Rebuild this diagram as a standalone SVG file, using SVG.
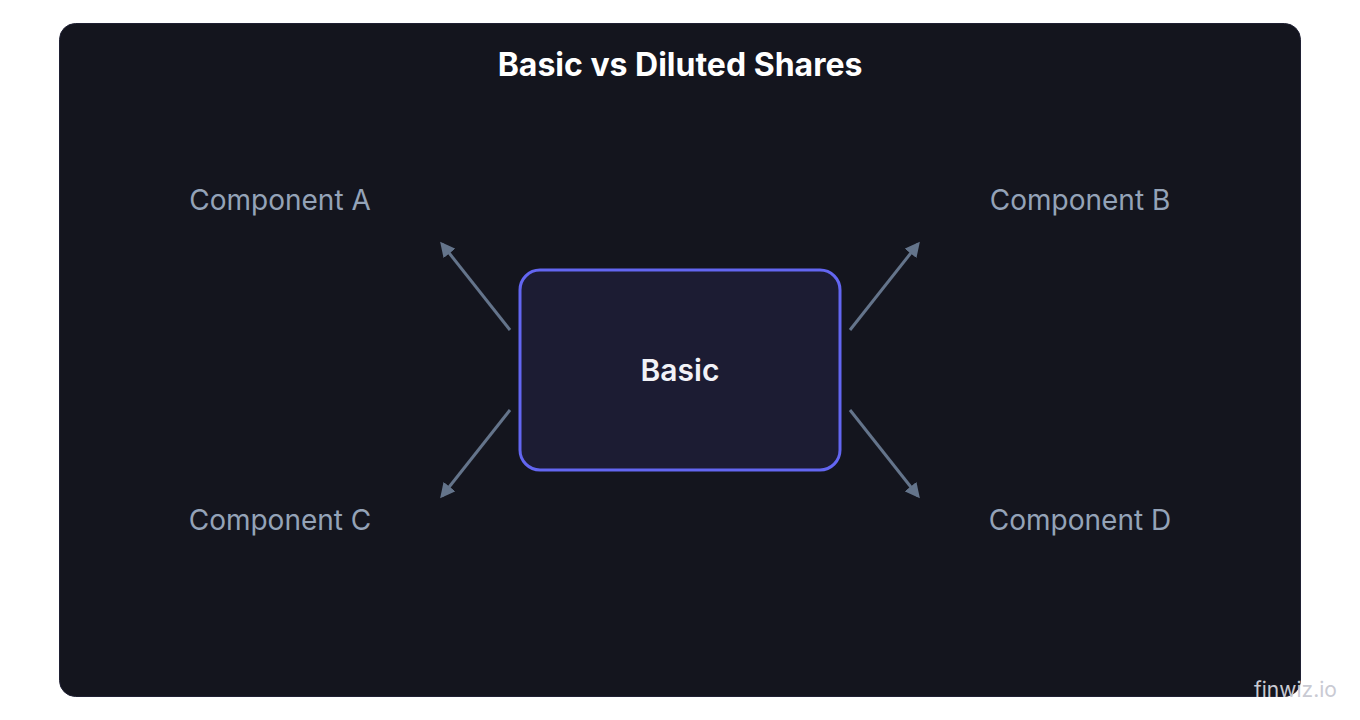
<svg xmlns="http://www.w3.org/2000/svg" width="1360" height="720" viewBox="0 0 1360 720">
<defs>
<style>
.title{font-family:Inter,"Noto Sans",sans-serif;font-weight:700;font-size:32px;fill:#ffffff;text-anchor:middle}
.comp{font-family:Inter,"Noto Sans",sans-serif;font-size:28px;fill:#94a3b8;text-anchor:middle}
.node{font-family:Inter,"Noto Sans",sans-serif;font-weight:600;font-size:30px;fill:#f1f2f7;text-anchor:middle}
.conn{stroke:#64748b;stroke-width:3;fill:none;marker-end:url(#ah)}
.wm{font-family:Inter,"Noto Sans",sans-serif;font-size:21px;fill:#c9cad3}
</style>
<marker id="ah" viewBox="0 0 10 10" refX="8" refY="5" markerWidth="5" markerHeight="5" orient="auto" markerUnits="strokeWidth">
<path d="M0,0 L10,5 L0,10 z" fill="#64748b"/>
</marker>
</defs>
<rect width="1360" height="720" fill="#ffffff"/>
<rect x="59.5" y="23.5" width="1241" height="673" rx="16" fill="#14151e" stroke="#1f2033" stroke-width="1"/>
<text class="title" x="680" y="76">Basic vs Diluted Shares</text>
<g id="connectors">
<line class="conn" x1="510" y1="330" x2="442" y2="244"/>
<line class="conn" x1="850" y1="330" x2="918" y2="244"/>
<line class="conn" x1="510" y1="410" x2="442" y2="496"/>
<line class="conn" x1="850" y1="410" x2="918" y2="496"/>
</g>
<g id="basic">
<rect x="520" y="270" width="320" height="200" rx="20" fill="#1c1c33" stroke="#6366f1" stroke-width="3"/>
<text class="node" x="680" y="381">Basic</text>
</g>
<g id="component-a"><text class="comp" x="280" y="210">Component A</text></g>
<g id="component-b"><text class="comp" x="1080" y="210">Component B</text></g>
<g id="component-c"><text class="comp" x="280" y="530">Component C</text></g>
<g id="component-d"><text class="comp" x="1080" y="530">Component D</text></g>
<text class="wm" x="1254" y="697">finwiz.io</text>
</svg>
